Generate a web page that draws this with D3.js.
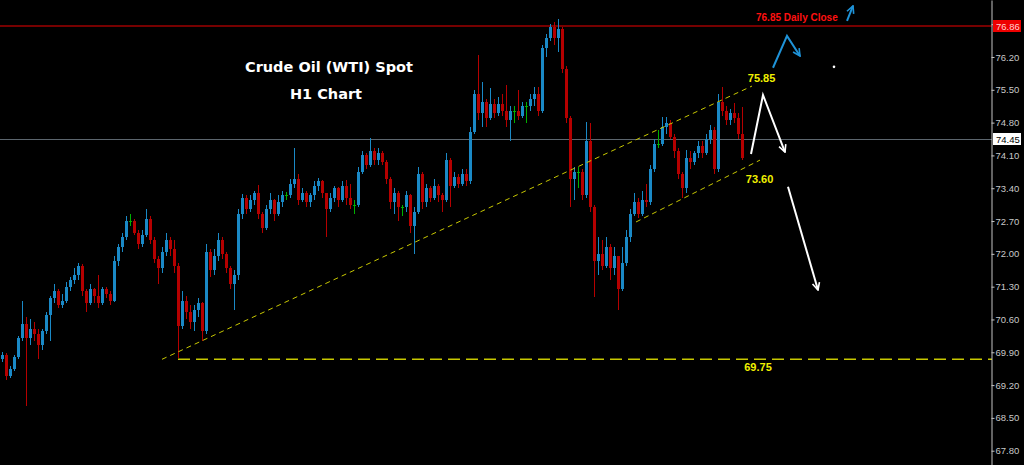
<!DOCTYPE html>
<html>
<head>
<meta charset="utf-8">
<script src="https://cdn.jsdelivr.net/npm/d3@7/dist/d3.min.js"></script>
<style>
  html, body { margin: 0; padding: 0; background: #000; }
  svg { display: block; }
</style>
</head>
<body>
<div class="canvas"></div>
<script>
// margins and dimensions
const w = 1024;
const h = 465;
const axisX = 992;           // price scale line
const priceTop = 77.416;     // price at y = 0
const priceBottom = 67.495;  // price at y = h

// H1 candles: open of first bar, then close / high / low of every bar
const firstOpen = 69.75;
const closes = [
  69.85, 69.40, 69.55, 69.80, 70.20, 70.50, 70.20, 70.40, 70.30, 70.05,
  70.35, 70.70, 71.05, 71.20, 70.90, 71.00, 71.30, 71.45, 71.55, 71.75,
  71.20, 70.95, 71.25, 71.10, 70.95, 71.25, 71.15, 71.00, 71.85, 72.15,
  72.35, 72.70, 72.70, 72.45, 72.20, 72.40, 72.75, 72.30, 71.90, 71.70,
  72.05, 72.30, 72.10, 71.75, 70.45, 71.00, 70.75, 70.55, 70.80, 70.95,
  70.35, 72.05, 71.65, 71.95, 72.30, 72.00, 71.70, 71.35, 71.55, 72.85,
  73.20, 72.95, 73.15, 73.30, 72.85, 72.55, 72.95, 73.15, 72.85, 73.10,
  73.25, 73.25, 73.50, 73.60, 73.15, 73.30, 73.10, 73.25, 73.45, 73.55,
  73.30, 72.95, 73.20, 73.40, 73.15, 73.45, 73.20, 73.05, 73.05, 73.75,
  74.10, 73.90, 74.20, 74.00, 74.15, 73.95, 73.60, 73.10, 73.30, 73.00,
  73.00, 73.25, 72.60, 72.90, 73.70, 73.10, 73.40, 73.20, 73.45, 73.25,
  73.15, 74.00, 73.45, 73.65, 73.50, 73.70, 73.55, 74.60, 75.40, 75.00,
  75.25, 74.90, 75.20, 75.00, 75.20, 75.05, 74.85, 75.05, 75.05, 74.95,
  75.15, 75.15, 75.30, 75.40, 75.05, 76.40, 76.60, 76.85, 76.60, 76.80,
  75.95, 74.90, 73.60, 73.75, 73.75, 73.25, 74.40, 73.00, 71.85, 72.00,
  71.75, 72.15, 71.70, 71.95, 71.25, 71.80, 72.35, 72.85, 73.10, 72.85,
  73.15, 73.10, 73.80, 74.35, 74.35, 74.70, 74.80, 74.50, 74.20, 73.70,
  73.40, 74.05, 73.95, 74.15, 74.30, 74.15, 74.45, 74.65, 73.80, 75.25,
  75.05, 74.85, 75.00, 74.90, 74.55, 74.05
];
const highs = [
  69.90, 69.88, 69.60, 69.85, 70.25, 71.00, 70.65, 70.60, 70.55, 70.40,
  70.40, 70.75, 71.10, 71.35, 71.25, 71.15, 71.40, 71.50, 71.70, 71.80,
  71.78, 71.25, 71.35, 71.28, 71.55, 71.30, 71.30, 71.20, 71.95, 72.20,
  72.45, 72.80, 72.85, 72.75, 72.50, 72.50, 72.95, 72.80, 72.35, 71.95,
  72.15, 72.45, 72.35, 72.30, 71.80, 71.20, 71.10, 70.90, 70.90, 71.05,
  70.98, 72.20, 72.10, 72.10, 72.45, 72.35, 72.05, 71.75, 71.65, 72.95,
  73.28, 73.25, 73.25, 73.35, 73.47, 72.90, 73.05, 73.30, 73.18, 73.25,
  73.35, 73.32, 73.60, 74.25, 73.70, 73.40, 73.35, 73.30, 73.55, 73.62,
  73.58, 73.30, 73.30, 73.45, 73.42, 73.55, 73.58, 73.50, 73.15, 73.85,
  74.20, 74.15, 74.47, 74.25, 74.25, 74.20, 74.00, 73.65, 73.40, 73.35,
  73.05, 73.35, 73.28, 73.00, 73.85, 73.75, 73.50, 73.45, 73.60, 73.50,
  73.30, 74.15, 74.05, 73.75, 73.70, 73.80, 73.80, 74.70, 75.50, 76.25,
  75.67, 75.30, 75.54, 75.30, 75.35, 75.40, 75.60, 75.15, 75.15, 75.50,
  75.25, 75.25, 75.40, 75.55, 75.55, 76.45, 76.70, 76.90, 76.95, 77.00,
  76.85, 76.00, 74.95, 73.85, 73.85, 73.80, 74.81, 74.80, 73.05, 72.35,
  72.30, 72.35, 72.20, 72.15, 71.95, 72.15, 72.50, 72.95, 73.30, 73.20,
  73.35, 73.50, 73.90, 74.45, 74.65, 74.92, 74.92, 74.85, 74.55, 74.25,
  73.75, 74.22, 74.20, 74.20, 74.40, 74.40, 74.55, 74.75, 74.70, 75.40,
  75.55, 75.15, 75.10, 75.22, 75.00, 75.13
];
const lows = [
  69.70, 69.30, 69.35, 69.50, 69.75, 70.15, 68.75, 70.05, 70.15, 69.75,
  69.95, 70.30, 70.15, 70.95, 70.85, 70.85, 70.95, 71.20, 71.35, 71.45,
  71.10, 70.75, 70.90, 70.95, 70.85, 70.90, 71.05, 70.90, 70.98, 71.75,
  72.05, 72.30, 72.60, 72.40, 72.10, 72.15, 72.35, 72.20, 71.80, 71.35,
  71.60, 71.95, 71.95, 71.60, 69.78, 70.40, 70.60, 70.40, 70.35, 70.65,
  70.15, 70.30, 71.50, 71.55, 71.85, 71.90, 71.60, 71.25, 70.80, 71.45,
  72.75, 72.85, 72.90, 73.05, 72.75, 72.45, 72.50, 72.85, 72.70, 72.80,
  73.00, 73.15, 73.20, 73.40, 73.05, 73.10, 73.00, 73.00, 73.15, 73.35,
  73.20, 72.35, 72.90, 73.10, 73.00, 73.10, 73.05, 72.95, 72.85, 73.00,
  73.70, 73.80, 73.85, 73.90, 73.90, 73.90, 73.50, 72.95, 72.85, 72.70,
  72.80, 72.90, 72.45, 72.00, 72.85, 72.95, 73.00, 73.10, 73.15, 73.10,
  72.90, 73.10, 73.00, 73.40, 73.40, 73.45, 73.45, 73.50, 74.55, 74.85,
  74.70, 74.70, 74.85, 74.90, 74.95, 74.95, 74.70, 74.41, 74.80, 74.85,
  74.90, 74.80, 75.05, 75.15, 74.95, 75.00, 76.20, 76.55, 76.45, 76.30,
  75.85, 74.80, 73.00, 73.15, 73.40, 73.15, 73.20, 72.90, 71.08, 71.55,
  71.65, 71.70, 71.45, 71.55, 70.80, 71.20, 71.75, 72.25, 72.80, 72.77,
  72.80, 73.00, 73.05, 73.75, 74.25, 74.30, 74.55, 74.45, 74.05, 73.60,
  73.19, 73.30, 73.80, 73.90, 74.05, 74.05, 74.10, 74.35, 73.70, 73.75,
  74.95, 74.75, 74.75, 74.80, 74.45, 74.00
];

// price scale tick labels
const axisTicks = [76.90, 76.20, 75.50, 74.80, 74.10, 73.40, 72.70, 72.00, 71.30, 70.60, 69.90, 69.20, 68.50, 67.80];

// levels
const dailyClose = 76.86;
const currentPrice = 74.45;
const supportLevel = 69.75;
const supportStartBar = 44;

// trend lines as [bar, price]
const channelTop = [[40, 69.75], [187.5, 75.58]];
const channelBottom = [[158.5, 72.68], [189.5, 74.00]];

// drawn arrows as [bar, price]
const blueArrow = [[192.75, 75.97], [196.25, 76.65], [199.5, 76.22]];
const blueArrowSmall = [[211.25, 76.97], [212.75, 77.29]];
const whiteArrowUp = [[187.25, 74.13], [190.25, 75.39], [195.75, 74.17]];
const whiteArrowDown = [[196.5, 73.43], [204, 71.23]];
const whiteDot = [208, 75.99];

// level labels as [text, bar, price]
const levelLabels = [["75.85", 189.9, 75.67], ["73.60", 189.4, 73.51], ["69.75", 189, 69.50]];
const dailyCloseLabel = ["76.85 Daily Close", 188.5, 76.97];

// colors
const upColor = "#1a89c6";
const downColor = "#b50000";
const dojiColor = "#00b000";
const trendColor = "#c8c800";

// build candle records
const candles = closes.map((c, i) => ({
  i: i,
  o: i === 0 ? firstOpen : closes[i - 1],
  c: c,
  h: highs[i],
  l: lows[i]
}));

const svg = d3.select(".canvas").append("svg").attr("width", w).attr("height", h);
svg.append("rect").attr("width", w).attr("height", h).attr("fill", "#000");

// scales: bar index -> x, price -> y
const xScale = d3.scaleLinear().domain([0, closes.length - 1]).range([2, 2 + 4 * (closes.length - 1)]);
const yScale = d3.scaleLinear().domain([priceBottom, priceTop]).range([h, 0]);

const defs = svg.append("defs");
[["head-blue", "#1f93d8"], ["head-white", "#ffffff"]].forEach(([id, col]) => {
  defs.append("marker")
    .attr("id", id)
    .attr("viewBox", "0 0 10 10")
    .attr("refX", 9)
    .attr("refY", 5)
    .attr("markerUnits", "userSpaceOnUse")
    .attr("markerWidth", 9)
    .attr("markerHeight", 9)
    .attr("orient", "auto")
    .append("path")
    .attr("d", "M1,1 L9,5 L1,9")
    .attr("fill", "none")
    .attr("stroke", col)
    .attr("stroke-width", 1.8);
});

// horizontal levels
svg.append("line")
  .attr("x1", 0).attr("x2", axisX)
  .attr("y1", yScale(dailyClose)).attr("y2", yScale(dailyClose))
  .attr("stroke", "#760000").attr("stroke-width", 2);

svg.append("line")
  .attr("x1", 0).attr("x2", axisX)
  .attr("y1", Math.round(yScale(currentPrice)) + 0.5).attr("y2", Math.round(yScale(currentPrice)) + 0.5)
  .attr("stroke", "#5c666e").attr("stroke-width", 1);

// candles
const candleColor = d => d.c > d.o ? upColor : (d.c < d.o ? downColor : dojiColor);
const bars = svg.append("g").attr("shape-rendering", "crispEdges");

bars.selectAll("line")
  .data(candles)
  .enter()
  .append("line")
  .attr("x1", d => xScale(d.i) + 0.5)
  .attr("x2", d => xScale(d.i) + 0.5)
  .attr("y1", d => yScale(Math.max(d.h, d.o, d.c)))
  .attr("y2", d => yScale(Math.min(d.l, d.o, d.c)))
  .attr("stroke", candleColor);

bars.selectAll("rect")
  .data(candles)
  .enter()
  .append("rect")
  .attr("x", d => xScale(d.i) - 1)
  .attr("width", 3)
  .attr("y", d => yScale(Math.max(d.o, d.c)))
  .attr("height", d => Math.max(1, Math.abs(yScale(d.o) - yScale(d.c))))
  .attr("fill", candleColor);

// trend lines
const line = d3.line().x(d => xScale(d[0])).y(d => yScale(d[1]));
[channelTop, channelBottom].forEach(pts => {
  svg.append("path")
    .attr("d", line(pts))
    .attr("fill", "none")
    .attr("stroke", trendColor)
    .attr("stroke-width", 1)
    .attr("stroke-dasharray", "5,4");
});

svg.append("line")
  .attr("x1", xScale(supportStartBar)).attr("x2", axisX)
  .attr("y1", yScale(supportLevel)).attr("y2", yScale(supportLevel))
  .attr("stroke", trendColor).attr("stroke-width", 1.5)
  .attr("stroke-dasharray", "12,6");

// arrows
[[blueArrow, "#1f93d8", "head-blue"], [blueArrowSmall, "#1f93d8", "head-blue"],
 [whiteArrowUp, "#ffffff", "head-white"], [whiteArrowDown, "#ffffff", "head-white"]].forEach(([pts, col, head]) => {
  svg.append("path")
    .attr("d", line(pts))
    .attr("fill", "none")
    .attr("stroke", col)
    .attr("stroke-width", 2)
    .attr("marker-end", `url(#${head})`);
});

svg.append("circle")
  .attr("cx", xScale(whiteDot[0])).attr("cy", yScale(whiteDot[1]))
  .attr("r", 1.3).attr("fill", "#fff");

// level labels
svg.selectAll(".level-label")
  .data(levelLabels)
  .enter()
  .append("text")
  .attr("class", "level-label")
  .attr("x", d => xScale(d[1]))
  .attr("y", d => yScale(d[2]))
  .attr("text-anchor", "middle")
  .attr("font-family", "Liberation Sans, Arial, sans-serif")
  .attr("font-weight", "bold")
  .attr("font-size", "11px")
  .attr("fill", "#f0f000")
  .text(d => d[0]);

svg.append("text")
  .attr("x", xScale(dailyCloseLabel[1]))
  .attr("y", yScale(dailyCloseLabel[2]))
  .attr("font-family", "Liberation Sans, Arial, sans-serif")
  .attr("font-weight", "bold")
  .attr("font-size", "10px")
  .attr("fill", "#ff1010")
  .text(dailyCloseLabel[0]);

// title
svg.append("text")
  .attr("x", 329).attr("y", 72)
  .attr("text-anchor", "middle")
  .attr("font-family", "DejaVu Sans, Verdana, sans-serif")
  .attr("font-weight", "bold")
  .attr("font-size", "14.5px")
  .attr("fill", "#fff")
  .text("Crude Oil (WTI) Spot");

svg.append("text")
  .attr("x", 326).attr("y", 99)
  .attr("text-anchor", "middle")
  .attr("font-family", "DejaVu Sans, Verdana, sans-serif")
  .attr("font-weight", "bold")
  .attr("font-size", "14.5px")
  .attr("fill", "#fff")
  .text("H1 Chart");

// price axis on the right
const yAxis = d3.axisRight(yScale)
  .tickValues(axisTicks)
  .tickSize(3)
  .tickSizeOuter(0)
  .tickPadding(1)
  .tickFormat(d3.format(".2f"));

const axisG = svg.append("g")
  .attr("transform", `translate(${axisX - 0.5}, 0)`)
  .call(yAxis);
axisG.select(".domain").attr("stroke", "#c4c4c4");
axisG.selectAll(".tick line").attr("stroke", "#c4c4c4");
axisG.selectAll(".tick text")
  .attr("fill", "#c8c8c8")
  .attr("font-family", "Liberation Sans, Arial, sans-serif")
  .attr("font-size", "9.5px");

// price boxes on the axis
const priceBoxes = [[dailyClose, "#ee0000", "#ffd0d0"], [currentPrice, "#ffffff", "#000000"]];
priceBoxes.forEach(([p, bg, fg]) => {
  const y = Math.round(yScale(p));
  svg.append("rect")
    .attr("x", axisX + 1).attr("y", y - 6)
    .attr("width", 28).attr("height", 12)
    .attr("fill", bg);
  svg.append("text")
    .attr("x", axisX + 4).attr("y", y + 3.5)
    .attr("font-family", "Liberation Sans, Arial, sans-serif")
    .attr("font-size", "9.5px")
    .attr("fill", fg)
    .text(d3.format(".2f")(p));
});
</script>
</body>
</html>
